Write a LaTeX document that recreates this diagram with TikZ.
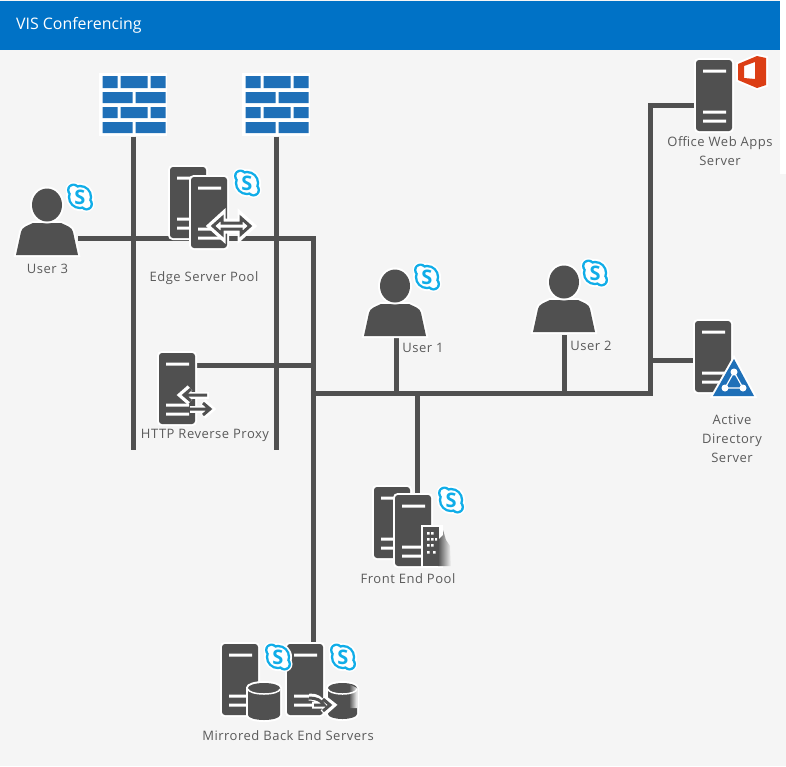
\documentclass[tikz,border=0pt]{standalone}
\usepackage{fontspec}
\setmainfont{Open Sans}
\newfontfamily\lblfont[LetterSpace=4]{Open Sans}
\definecolor{bgcol}{RGB}{245,245,245}
\definecolor{headcol}{RGB}{0,114,198}
\definecolor{srvcol}{RGB}{80,80,80}
\definecolor{txtcol}{RGB}{90,90,90}
\definecolor{brickcol}{RGB}{31,112,184}
\definecolor{skypecol}{RGB}{16,173,232}
\definecolor{officecol}{RGB}{220,62,21}
\tikzset{
	wire/.style={draw=srvcol,line width=5pt},
	lbl/.style={font=\lblfont\fontsize{13}{19}\selectfont,text=txtcol,align=center},
	box/.style={inner sep=0pt,minimum width=#1},
	halo/.style={preaction={draw=white,line width=4pt},fill=srvcol},
	pics/server/.style={code={
		\path[halo,rounded corners=3pt] (0,71) -- (0,0) -- (36,0) -- (36,71) -- cycle;
		\fill[white] (7,9.5) rectangle (30,12.5) (7,50.5) rectangle (30,53.5) (7,59.5) rectangle (30,62.5);
	}},
	pics/user/.style={code={
		\path[halo] (-31,50) -- (-26,27) .. controls (-25,22) and (-20,21) .. (-14,18) -- (14,18) .. controls (20,21) and (25,22) .. (26,27) -- (31,50) -- cycle;
		\path[halo] (0,0) ellipse (15 and 16.5);
	}},
	pics/skype/.style={code={
		\fill[white] (0,0) circle (14) (-6.5,-7) circle (8) (6.5,7) circle (8);
		\fill[skypecol] (0,0) circle (12.2) (-6.5,-7) circle (6.5) (6.5,7) circle (6.5);
		\fill[white] (0,0) circle (9.8) (-6.5,-7) circle (4.2) (6.5,7) circle (4.2);
		\node[font=\fontsize{20}{20}\bfseries,text=skypecol,inner sep=0pt] (letter) at (0,0) {S};
	}},
	pics/firewall/.style={code={
		\fill[white] (-34,-32) rectangle (34,31);
		\fill[brickcol] (-30.5,-29) rectangle (-15.5,-17) (-12.5,-29) rectangle (14.5,-17) (17.5,-29) rectangle (32.5,-17);
		\fill[brickcol] (-30.5,-13) rectangle (-0.5,-2) (2.5,-13) rectangle (32.5,-2);
		\fill[brickcol] (-30.5,2) rectangle (-15.5,13) (-12.5,2) rectangle (14.5,13) (17.5,2) rectangle (32.5,13);
		\fill[brickcol] (-30.5,17) rectangle (-0.5,28) (2.5,17) rectangle (32.5,28);
	}},
	pics/database/.style={code={
		\path[halo] (-16,4) arc (180:360:16 and 5) -- (16,31) arc (0:180:16 and 5) -- cycle;
		\draw[white,line width=1.5pt] (-16,5) arc (180:0:16 and 5);
	}}
}

\begin{document}
\begin{tikzpicture}[x=1pt,y=-1pt]
	\useasboundingbox (0,0) rectangle (786,766);
	\fill[bgcol] (0,0) rectangle (786,766);
	\fill[white] (780,0) rectangle (786,174);
	\fill[headcol] (0,1) rectangle (780,50);
	\node[anchor=west,font=\fontsize{15.9}{16}\selectfont,text=white,inner sep=0pt] (title) at (16,25) {VIS Conferencing};

	% places the wires end on
	\node[box=68pt,minimum height=63pt] (firewall1) at (133,105) {};
	\node[box=68pt,minimum height=63pt] (firewall2) at (276,105) {};
	\node[box=62pt,minimum height=34pt] (user3) at (47,238) {};
	\node[box=62pt,minimum height=34pt] (user1) at (396,321) {};
	\node[box=62pt,minimum height=34pt] (user2) at (564,318) {};
	\node[box=38pt,minimum height=73pt] (office) at (714,95.5) {};
	\node[box=38pt,minimum height=73pt] (directory) at (713,356.5) {};
	\node[box=38pt,minimum height=73pt] (proxy) at (177,388) {};
	\node[box=38pt,minimum height=73pt] (frontend) at (412.5,530.5) {};
	\node[box=38pt,minimum height=73pt] (backend) at (304.5,679.5) {};
	\coordinate (firewall1end) at (133,450);
	\coordinate (firewall2end) at (276,450);
	\coordinate (edgecorner) at (313,238);
	\coordinate (trunkleft) at (313,393);
	\coordinate (trunkright) at (650,393);
	\coordinate (officecorner) at (650,105);
	\coordinate (directoryjoin) at (650,360);
	\coordinate (proxyend) at (316,365);
	\coordinate (frontjoin) at (417,393);

	% wires
	\draw[wire] (firewall1.south) -- (firewall1end);
	\draw[wire] (firewall2.south) -- (firewall2end);
	\draw[wire] (user3.east) -- (edgecorner) -- (edgecorner |- backend.north);
	\draw[wire] (trunkleft) -- (trunkright) -- (officecorner) -- (officecorner -| office.west);
	\draw[wire] (directoryjoin) -- (directoryjoin -| directory.west);
	\draw[wire] (proxyend -| proxy.east) -- (proxyend);
	\draw[wire] (user1.south) -- (user1 |- trunkleft);
	\draw[wire] (user2.south) -- (user2 |- trunkleft);
	\draw[wire] (frontjoin) -- (frontjoin |- frontend.north);

	% firewalls
	\pic (fw1) at (133,105) {firewall};
	\pic (fw2) at (276,105) {firewall};

	% users
	\pic (u3) at (47,205) {user};
	\pic (s3) at (80,197) {skype};
	\pic (u1) at (395,286) {user};
	\pic (s1) at (427,277) {skype};
	\pic (u2) at (564,282) {user};
	\pic (s2) at (595,273) {skype};
	\node[lbl] (user3text) at (47.5,269) {User 3};
	\node[lbl] (user1text) at (423,348) {User 1};
	\node[lbl] (user2text) at (591,346) {User 2};

	% edge pool
	\pic (edge1) at (170,167) {server};
	\pic (edge2) at (191,177) {server};
	\pic (s4) at (247,183) {skype};
	\path[draw=white,line width=7pt,line join=miter,fill=white] (211,226) -- (222,216) -- (222,222) -- (241,222) -- (241,216) -- (252,226) -- (241,236) -- (241,230) -- (222,230) -- (222,236) -- cycle;
	\path[draw=srvcol,line width=3pt,fill=white] (213,226) -- (222,218) -- (222,223) -- (241,223) -- (241,218) -- (250,226) -- (241,234) -- (241,229) -- (222,229) -- (222,234) -- cycle;
	\node[lbl] (edgetext) at (204,278) {Edge Server Pool};

	% reverse proxy
	\pic (prx) at (159,353) {server};
	\draw[white,line width=7pt] (209,395) -- (184,395) (190,409) -- (209,409);
	\draw[white,line width=7pt] (190,388) -- (182,395) -- (190,402) (203,402) -- (211,409) -- (203,416);
	\draw[srvcol,line width=3pt] (207,395) -- (184,395) (191,389) -- (184,395) -- (191,401);
	\draw[srvcol,line width=3pt] (188,409) -- (210,409) (203,403) -- (210,409) -- (203,415);
	\node[lbl] (proxytext) at (205,435) {HTTP Reverse Proxy};

	% front end pool
	\pic (fe1) at (374,487) {server};
	\pic (fe2) at (395,495) {server};
	\pic (s5) at (451,500) {skype};
	\path[draw=white,line width=4pt,fill=white] (423,527) rectangle (441,566);
	\shade[left color=srvcol,middle color=srvcol,right color=bgcol] (438,566) -- (438,540) -- (443,535) -- (443,530) -- (446,540) -- (450,546) -- (451,566) -- cycle;
	\fill[srvcol] (423,527) rectangle (439,566);
	\fill[white] (427,532) rectangle (429.5,534.5) (431,532) rectangle (433.5,534.5) (427,538) rectangle (429.5,540.5) (431,538) rectangle (433.5,540.5) (435,538) rectangle (437,540.5) (427,544) rectangle (429.5,546.5) (431,544) rectangle (433.5,546.5) (427,551) rectangle (429.5,553.5) (433,551) rectangle (435.5,553.5);
	\node[lbl] (fronttext) at (408,579) {Front End Pool};

	% back end servers
	\pic (be1) at (222,644) {server};
	\pic (be2) at (287,644) {server};
	\pic (s6) at (278,657) {skype};
	\pic (s7) at (343,657) {skype};
	\pic (db1) at (264,684) {database};
	\path[draw=white,line width=4pt,fill=white] (328,688) arc (180:360:14.5 and 5) -- (357,714) arc (0:180:14.5 and 5) -- cycle;
	\fill[srvcol] (328,688) arc (180:360:14.5 and 5) -- (357,714) arc (0:180:14.5 and 5) -- cycle;
	\shade[left color=srvcol,right color=bgcol] (349,684) -- (357,688) -- (357,708) -- (349,708) -- cycle;
	\draw[white,line width=1.5pt] (328,689) arc (180:0:14.5 and 5);
	\draw[white,line width=7pt] (309,697) .. controls (316,697) and (320,699) .. (323,705) -- (312,705) (323,698) -- (332,705) -- (323,713);
	\draw[srvcol,line width=3pt] (309,698) .. controls (316,698) and (321,700) .. (324,705) -- (314,705) (323,699) -- (330,705) -- (323,711);
	\node[lbl] (backtext) at (288,736) {Mirrored Back End Servers};

	% office web apps
	\pic (ofs) at (696,60) {server};
	\path[draw=white,line width=4pt,fill=white] (738,64) -- (757,56) -- (766,58) -- (766,85) -- (757,88) -- (738,80) -- cycle;
	\fill[officecol,even odd rule] (738,64) -- (757,56) -- (766,58) -- (766,85) -- (757,88) -- (738,80) -- cycle (744,66) -- (755,62) -- (755,79) -- (744,78) -- cycle;
	\node[lbl] (officetext) at (720,151) {Office Web Apps\\Server};

	% active directory
	\pic (ads) at (695,321) {server};
	\path[halo,line join=round,fill=brickcol] (734,359) -- (754,396) -- (713,396) -- cycle;
	\fill[white] (734,372) circle (3.5) (725,388) circle (3.5) (743,388) circle (3.5);
	\draw[white,line width=1.2pt] (734,372) -- (725,388) -- (743,388) -- cycle;
	\node[lbl] (directorytext) at (732,438.5) {Active\\Directory\\Server};
\end{tikzpicture}
\end{document}
